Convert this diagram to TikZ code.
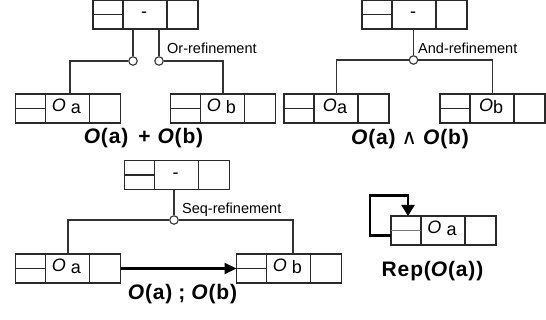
\documentclass[tikz,border=0pt]{standalone}
\usepackage{fontspec}
\setmainfont{Liberation Sans}
\newfontfamily\symfont{DejaVu Sans}
\usetikzlibrary{arrows.meta}

\definecolor{boxgray}{HTML}{2A2A2A}
\definecolor{linkgray}{HTML}{333333}
\definecolor{softgray}{HTML}{7A7A7A}

\tikzset{
  objbox/.style={draw=boxgray, line width=1.2pt, minimum width=105pt,
    minimum height=29pt, inner sep=0pt, outer sep=0pt},
  cellline/.style={draw=boxgray, line width=1.2pt},
  link/.style={draw=linkgray, line width=1.1pt},
  joint/.style={circle, draw=linkgray, fill=white, line width=1.1pt,
    minimum size=8.5pt, inner sep=0pt},
  reflabel/.style={font=\fontsize{14.5}{16}\selectfont, anchor=west, inner sep=0pt},
  objlabel/.style={font=\fontsize{18}{20}\selectfont, anchor=base, inner sep=0pt},
  caption/.style={font=\fontsize{21}{24}\selectfont\bfseries\addfontfeature{LetterSpace=4},
    anchor=base, inner sep=0pt},
  flow/.style={draw=black, line width=2.2pt, line join=miter,
    -{Triangle[length=12pt,width=12pt]}},
}

% object box: three cells, the left one split in two
% #1 divider colour, #2 name, #3 centre, #4 text of the middle cell
\newcommand\objbox[4][boxgray]{%
  \node[objbox] (#2) at (#3) {};
  \draw[cellline] ([xshift=30pt]#2.north west) -- ([xshift=30pt]#2.south west);
  \draw[cellline] ([xshift=-31pt]#2.north east) -- ([xshift=-31pt]#2.south east);
  \draw[cellline, draw=#1] (#2.west) -- ([xshift=30pt]#2.west);
  \node[objlabel] (#2-text) at ([xshift=51pt, yshift=-3.5pt]#2.west) {#4};
}
\newcommand\objname[2][\ ]{{\itshape O}#1\raisebox{-1.5pt}{#2}}

\begin{document}
\begin{tikzpicture}[x=1pt, y=-1pt]
  \useasboundingbox (0,0) rectangle (546,320);
  \fill[white] (0,0) rectangle (546,320);

  % ---- Or-refinement ----
  \objbox{P1}{145.5,14.5}{-}
  \objbox{A1}{68,108.5}{\objname{a}}
  \objbox{B1}{223,108.5}{\objname{b}}
  \node[joint] (j1) at (133,61) {};
  \node[joint] (j2) at (159,61) {};
  \draw[link] (P1.south -| j1) -- (j1.north);
  \draw[link] (P1.south -| j2) -- (j2.north);
  \draw[link] (j1.west) -| ([xshift=2pt]A1.north);
  \draw[link] (j2.east) -| (B1.north);
  \node[reflabel] (or-lbl) at (167,48) {Or-refinement};
  \node[caption] (or-cap) at (143.5,144)
    {\textit{O}(a)\hspace{10pt}+\hspace{7pt}\textit{O}(b)};

  % ---- And-refinement ----
  \objbox{P2}{414.5,14.5}{-}
  \objbox{A2}{336.5,108.5}{\objname[]{a}}
  \objbox{B2}{492.5,108.5}{\objname[]{b}}
  \node[joint] (j3) at (413.5,60) {};
  \draw[link] (P2.south -| j3) -- (j3.north);
  \draw[link] (j3.west) -| (A2.north);
  \draw[link] (j3.east) -| (B2.north);
  \node[reflabel] (and-lbl) at (418,48) {And-refinement};
  \node[caption] (and-cap) at (410,145)
    {\textit{O}(a)\hspace{6pt}{\symfont\mdseries\upshape ∧}\hspace{6pt}\textit{O}(b)};

  % ---- Seq-refinement ----
  \objbox{P3}{177,175}{-}
  \objbox{A3}{68,268.5}{\objname{a}}
  \objbox{B3}{289,268.5}{\objname{b}}
  \node[joint] (j4) at (174,220) {};
  \draw[link] (P3.south -| j4) -- (j4.north);
  \draw[link] (j4.west) -| (A3.north);
  \draw[link] (j4.east) -| ([xshift=4pt]B3.north);
  \node[reflabel] (seq-lbl) at (182,210) {Seq-refinement};
  \draw[flow, -{Triangle[length=12pt,width=11pt]}] (A3.east) -- (B3.west);
  \node[caption] (seq-cap) at (182.5,300)
    {\textit{O}(a)\hspace{6pt};\hspace{6pt}\textit{O}(b)};

  % ---- Repetition ----
  \objbox[softgray]{R}{443.5,230.5}{\objname{a}}
  \coordinate (rep-turn) at (370,195.5);
  \draw[flow, -{Triangle[length=11pt,width=13pt]}]
    ([yshift=-5pt]R.west) -| (rep-turn) -| ([xshift=-35.5pt]R.north);
  \node[caption] (rep-cap) at (432.5,277) {Rep(\textit{O}(a))};
\end{tikzpicture}
\end{document}
